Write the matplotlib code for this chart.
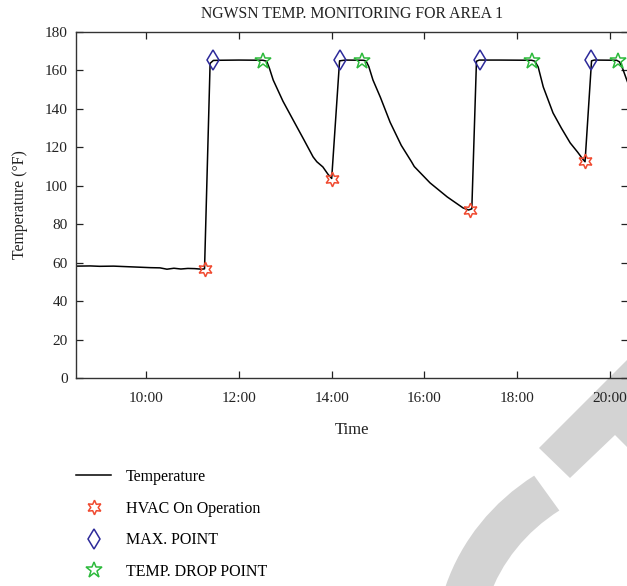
import matplotlib
matplotlib.use("Agg")
import matplotlib.pyplot as plt
from matplotlib.patches import Wedge, Polygon

# ---------------- data (time in hours, temperature in °F) ----------------
time_h = [8.49, 8.8, 9.0, 9.3, 9.6, 9.9, 10.1, 10.3, 10.45, 10.6, 10.75, 10.9, 11.05, 11.2, 11.26,
          11.38, 11.45, 11.6, 12.0, 12.52,
          12.6, 12.66, 12.74, 12.95, 13.17, 13.4, 13.6, 13.68, 13.81, 13.92, 14.0,
          14.17, 14.3, 14.68,
          14.74, 14.8, 14.89, 15.05, 15.26, 15.5, 15.72, 15.78, 16.12, 16.49, 16.83, 16.95, 17.02,
          17.12, 17.18, 17.6, 18.31,
          18.38, 18.45, 18.56, 18.77, 18.95, 19.14, 19.3, 19.42, 19.46,
          19.6, 19.66, 20.14,
          20.2, 20.27, 20.36, 20.5]
temp_f = [58.2, 58.3, 58.1, 58.2, 57.9, 57.6, 57.4, 57.3, 56.6, 57.1, 56.7, 57.0, 56.9, 56.6, 56.8,
          163.7, 165.2, 165.3, 165.4, 165.3,
          164.8, 161.0, 155.0, 144.0, 134.2, 124.0, 115.0, 112.5, 109.8, 106.0, 103.8,
          165.0, 165.4, 165.3,
          165.0, 162.0, 155.0, 146.0, 133.0, 121.0, 112.5, 110.0, 101.5, 94.2, 88.5, 87.4, 88.0,
          164.8, 165.4, 165.4, 165.3,
          164.8, 161.8, 151.4, 137.9, 130.0, 122.3, 117.5, 113.6, 112.5,
          165.0, 165.4, 165.3,
          164.5, 161.0, 155.0, 146.0]

hvac_t = [11.26, 14.0, 16.98, 19.46]
hvac_v = [56.6, 103.5, 87.4, 113.1]
max_t = [11.45, 14.18, 17.2, 19.59]
max_v = [165.4, 165.4, 165.4, 165.4]
drop_t = [12.53, 14.65, 18.31, 20.16]
drop_v = [165.0, 165.0, 165.0, 165.0]

tick_pos = [10, 12, 14, 16, 18, 20]
tick_labels = ["10:00", "12:00", "14:00", "16:00", "18:00", "20:00"]
y_ticks = [0, 20, 40, 60, 80, 100, 120, 140, 160, 180]

plt.rcParams["font.family"] = ["Liberation Serif", "DejaVu Serif"]

W, H = 627, 586
fig = plt.figure(figsize=(W / 100, H / 100), dpi=100)

# watermark (decorative, behind everything)
def fx(px):
    return px / W
def fy(py):
    return 1 - py / H

wm = "#d3d3d3"
fig.patches.append(Wedge((fx(660), fy(650)), 225 / W, 124, 200, width=45 / W,
                         transform=fig.transFigure, facecolor=wm, edgecolor="none", zorder=-5))
fig.patches.append(Polygon([(fx(539), fy(448)), (fx(570), fy(478)), (fx(615), fy(435)),
                            (fx(640), fy(460)), (fx(640), fy(340)), (fx(627), fy(360))],
                           closed=True, transform=fig.transFigure, facecolor=wm,
                           edgecolor="none", zorder=-5))

ax = fig.add_axes([76 / W, 1 - 378 / H, 551.5 / W, 346 / H])
ax.set_facecolor("none")

ax.plot(time_h, temp_f, color="black", lw=1.1, label="Temperature", zorder=2)
ax.plot(hvac_t, hvac_v, ls="none", marker=(6, 1, 0), ms=10.5, mfc="none",
        mec="#f04a30", mew=1.1, label="HVAC On Operation", zorder=3)
ax.plot(max_t, max_v, ls="none", marker="d", ms=10.2, mfc="none",
        mec="#2d2a9a", mew=1.1, label="MAX. POINT", zorder=3)
ax.plot(drop_t, drop_v, ls="none", marker="*", ms=12, mfc="none",
        mec="#2dba3c", mew=1.1, label="TEMP. DROP POINT", zorder=3)

ax.set_xlim(8.49, 20.375)
ax.set_ylim(0, 180)
ax.set_xticks(tick_pos)
ax.set_xticklabels(tick_labels)
ax.set_yticks(y_ticks)
ax.tick_params(direction="in", length=5, width=0.9, top=True, right=True,
               labelsize=11, colors="#222222")
ax.tick_params(axis="x", pad=10)
ax.tick_params(axis="y", pad=6)
for s in ax.spines.values():
    s.set_linewidth(1.0)
    s.set_color("#333333")

ax.set_title("NGWSN TEMP. MONITORING FOR AREA 1", fontsize=11.3, pad=10, color="#222222")
ax.set_xlabel("Time", fontsize=12, labelpad=12, color="#222222")
ax.set_ylabel("Temperature (°F)", fontsize=11.3, labelpad=12, color="#222222")

fig.legend(loc="upper left", bbox_to_anchor=(76 / W, 1 - 469 / H), frameon=False,
           fontsize=11.5, handlelength=2.2, handletextpad=0.9, labelspacing=0.98,
           borderpad=0, borderaxespad=0)

fig.savefig("out.png", dpi=100)
